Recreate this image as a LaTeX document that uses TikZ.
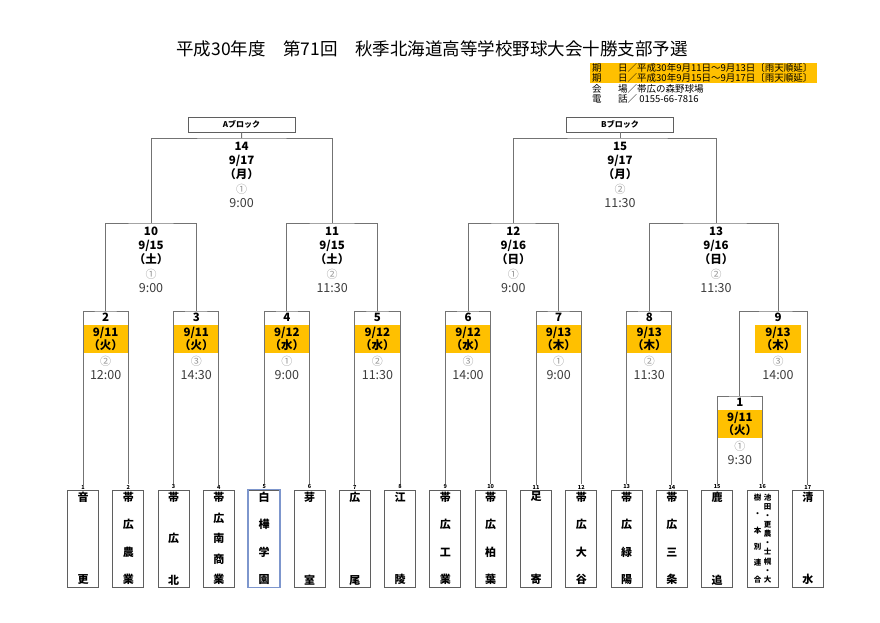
\documentclass[tikz,border=0pt]{standalone}
\usepackage{fontspec}
\setmainfont{Noto Sans CJK JP}
\usepackage{xcolor}
\usepackage{tikz}
\definecolor{gold}{RGB}{255,192,0}
\definecolor{linegray}{RGB}{115,115,115}
\definecolor{boxgray}{RGB}{95,95,95}
\definecolor{boxblue}{RGB}{125,150,205}
\definecolor{circgray}{RGB}{150,150,150}
\definecolor{timegray}{RGB}{60,60,60}
\newcommand\tate[2][92pt]{\parbox[c][#1][s]{12pt}{\centering\foreach \ch [count=\k] in #2 {\ifnum\k>1 \vfill\fi\ch}}}
\begin{document}
\begin{tikzpicture}[x=1pt,y=-1pt,
		line/.style={draw=linegray,line width=0.9pt},
		team/.style={draw=boxgray,line width=0.9pt,minimum width=31pt,minimum height=97pt,inner sep=0pt,font=\bfseries\fontsize{11}{12}\selectfont},
		tno/.style={font=\bfseries\fontsize{5.5}{6}\selectfont,inner sep=0.3pt,anchor=south},
		block/.style={draw=boxgray,line width=0.9pt,minimum width=107pt,minimum height=15pt,inner sep=0pt,font=\bfseries\fontsize{8}{9}\selectfont},
		info/.style={font=\fontsize{9.5}{10}\selectfont,inner sep=0pt,anchor=west},
		mno/.style={font=\bfseries\fontsize{11.5}{12}\selectfont,inner sep=0pt},
		mdate/.style={font=\bfseries\fontsize{11.5}{13.5}\selectfont,align=center,inner sep=0pt,minimum width=45.3pt,minimum height=28pt},
		hl/.style={mdate,fill=gold},
		mcirc/.style={font=\fontsize{11}{12}\selectfont,text=circgray,inner sep=0pt},
		mtime/.style={font=\fontsize{12.5}{13}\selectfont,text=timegray,inner sep=0pt}]
	\useasboundingbox (0,0) rectangle (880,623);
	\node[font=\fontsize{17.5}{20}\selectfont] (title) at (432,49) {平成30年度　第71回　秋季北海道高等学校野球大会十勝支部予選};
	\fill[gold] (590,63) rectangle (817,83);
	\foreach \r/\y/\key/\val in {1/68/期/日／平成30年9月11日～9月13日〔雨天順延〕,2/78/期/日／平成30年9月15日～9月17日〔雨天順延〕,3/88.5/会/場／帯広の森野球場,4/99/電/話／ 0155-66-7816}
	{
		\node[info] (ik\r) at (592,\y) {\key};
		\node[info] (iv\r) at (618,\y) {\val};
	}
	\node[block] (blockA) at (241.5,124.5) {Aブロック};
	\node[block] (blockB) at (620,124.5) {Bブロック};
	\foreach \m/\x/\y in {2/105.65/311,3/196.25/311,4/286.85/311,5/377.45/311,6/468.05/311,7/558.65/311,8/649.25/311,9/778/311,1/739.85/396,10/151/223,11/332.15/223,12/513.35/223,13/716/223,14/241.6/138,15/620/138}
		\coordinate (b\m) at (\x,\y);
	\foreach \i/\name in {1/{音,更},2/{帯,広,農,業},3/{帯,広,北},4/{帯,広,南,商,業},5/{白,樺,学,園},6/{芽,室},7/{広,尾},8/{江,陵},9/{帯,広,工,業},10/{帯,広,柏,葉},11/{足,寄},12/{帯,広,大,谷},13/{帯,広,緑,陽},14/{帯,広,三,条},15/{鹿,追},17/{清,水}}
	{
		\pgfmathsetmacro\tx{83+45.3*(\i-1)}
		\node[team] (t\i) at (\tx,538.5) {\tate{\name}};
	}
	\node[team] (t16) at (762.5,538.5) {\fontsize{7.5}{8}\selectfont\tate[88pt]{{樹,・,本,別,連,合}}\hspace{-2pt}\tate[88pt]{{池,田,・,更,農,・,士,幌,・,大}}};
	\draw[boxblue,line width=1.6pt] (t5.north west) rectangle (t5.south east);
	\foreach \i in {1,...,17}
	{
		\pgfmathsetmacro\tx{83+45.3*(\i-1)}
		\node[tno] (n\i) at (\tx,489.5) {\i};
	}
	\foreach \m/\dd/\w/\c/\t in {14/17/月/①/9:00,15/17/月/②/11:30,10/15/土/①/9:00,11/15/土/②/11:30,12/16/日/①/9:00,13/16/日/②/11:30}
		\path (b\m) ++(0,8) node[mno] (no\m) {\m}
			++(0,21.5) node[mdate] (dt\m) {9/\dd\\（\w）}
			++(0,21.5) node[mcirc] (ci\m) {\c}
			++(0,14.5) node[mtime] (tm\m) {\t};
	\foreach \m/\dd/\w/\c/\t in {2/11/火/②/12:00,3/11/火/③/14:30,4/12/水/①/9:00,5/12/水/②/11:30,6/12/水/③/14:00,7/13/木/①/9:00,8/13/木/②/11:30,9/13/木/③/14:00,1/11/火/①/9:30}
		\path (b\m) ++(0,6.5) node[mno] (no\m) {\m}
			++(0,21.5) node[hl] (dt\m) {9/\dd\\（\w）}
			++(0,22) node[mcirc] (ci\m) {\c}
			++(0,14.5) node[mtime] (tm\m) {\t};
	\foreach \m [evaluate=\m as \l using int(2*\m-3), evaluate=\m as \r using int(2*\m-2)] in {2,...,8}
		\draw[line] (n\l.north) |- (b\m) -| (n\r.north);
	\draw[line] (n15.north) |- (b1) -| (n16.north);
	\draw[line] (b1) |- (b9) -| (n17.north);
	\draw[line] (b2) |- (b10) -| (b3);
	\draw[line] (b4) |- (b11) -| (b5);
	\draw[line] (b6) |- (b12) -| (b7);
	\draw[line] (b8) |- (b13) -| (b9);
	\draw[line] (b10) |- (b14) -| (b11);
	\draw[line] (b12) |- (b15) -| (b13);
	\draw[line] (b14) -- (blockA);
	\draw[line] (b15) -- (blockB);
\end{tikzpicture}
\end{document}
